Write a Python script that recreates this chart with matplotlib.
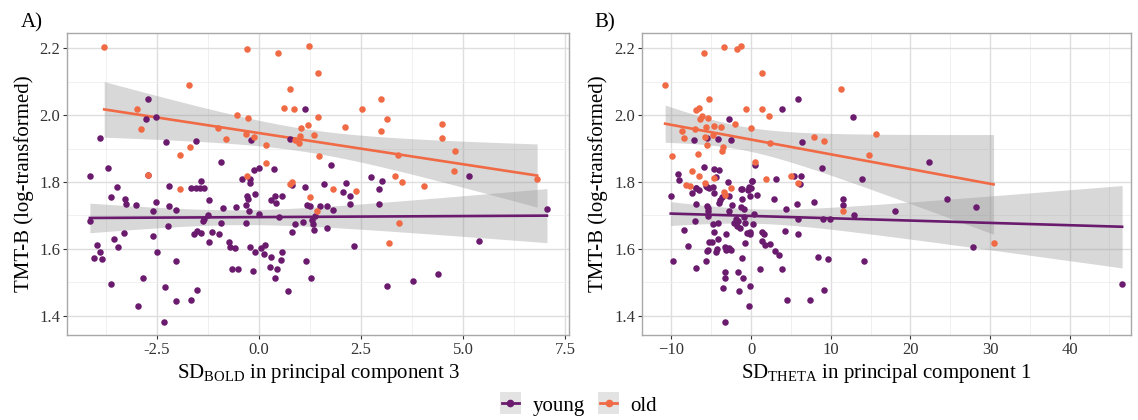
import numpy as np
import matplotlib
matplotlib.use("Agg")
import matplotlib.pyplot as plt
from matplotlib.lines import Line2D
from matplotlib.patches import Rectangle
from matplotlib.legend_handler import HandlerBase

plt.rcParams['font.family'] = ['Liberation Serif', 'DejaVu Serif']
plt.rcParams['mathtext.fontset'] = 'custom'
plt.rcParams['mathtext.rm'] = 'Liberation Serif'

PURPLE = '#6A1B6E'
ORANGE = '#EF6A45'

# ---- panel A: SD_BOLD in PC3 ----
a_old_x = [-3.79, -0.30, 0.47, 1.22, 1.44, -1.71, -2.99, -2.90, -1.69, -1.93,
           -0.55, -0.28, -1.00, -0.81, -0.33, -0.13, 0.16, 0.76, 0.61, 0.86,
           1.44, 1.03, 1.20, 1.00, 1.35, 0.88, 0.98, 1.47, 0.17, -0.30,
           -2.72, 0.76, 0.80, -1.93, 2.98, 2.51, 3.13, 2.11, 2.98, 4.48,
           4.48, 4.79, 3.40, 4.77, 6.81, 3.32, 3.50, 4.03, 1.80, 2.37,
           1.25, 1.42, 3.43, 3.18]
a_old_y = [2.204, 2.198, 2.187, 2.207, 2.126, 2.090, 2.018, 1.959, 1.906, 1.881,
           2.000, 1.992, 1.963, 1.929, 1.944, 1.936, 1.912, 2.078, 2.021, 2.018,
           1.995, 1.963, 1.971, 1.938, 1.941, 1.926, 1.917, 1.878, 1.858, 1.819,
           1.822, 1.794, 1.799, 1.780, 2.048, 2.018, 1.989, 1.965, 1.953, 1.974,
           1.933, 1.894, 1.882, 1.834, 1.809, 1.818, 1.800, 1.788, 1.779, 1.774,
           1.755, 1.713, 1.678, 1.616]

a_young_x = [-2.72, -2.77, -2.53, -3.89, -2.28, -1.55, -0.94, -3.70, -4.14, -2.72,
             1.13, -0.20, 0.76, 0.37, -0.12, 0.00, -0.42, -0.22, -0.22, -1.42,
             -3.48, -2.20, -1.67, -1.54, -1.44, -1.35, 0.81, 1.13,
             1.76, 2.74, 3.01, 5.14, 1.58, 2.13, 2.95, 2.06, 2.22, 2.93,
             2.23, 1.81, 1.66, 1.49, 1.37, 1.29, 1.31, 1.35, 1.66, 2.33,
             5.38, 7.05, 1.27, 3.13, 3.77, 4.38,
             -3.62, -3.27, -3.26, -3.01, -2.52, -2.60, -2.21, -2.03, -2.22, -3.30,
             -2.59, -3.55, -3.45, -4.14, -3.97, -3.90, -4.04, -3.84, -2.49, -2.02,
             -3.62, -2.84, -2.97, -2.30, -2.04, -1.67, -1.53, -2.33, -1.23, -1.26,
             -1.35, -1.38, -1.53, -1.59, -1.41, -1.14, -1.23, -0.93, -0.99, -0.87,
             -0.73, -0.70, -0.58, -0.67, -0.51, -0.56, -0.31, -0.28, -0.29, -0.25,
             -0.33, -0.10, 0.00, -0.21, -0.09, 0.06, 0.14, 0.13, -0.15, 0.29,
             0.26, 0.39, 0.44, 0.54, 0.57, 0.29, 0.39, 0.41, 0.56, 0.50,
             0.72, 0.81, 0.89, 1.08, 1.18, 1.25, 1.14]
a_young_y = [2.049, 1.989, 1.994, 1.933, 1.920, 1.924, 1.860, 1.843, 1.818, 1.822,
             2.018, 1.925, 1.929, 1.839, 1.836, 1.843, 1.809, 1.809, 1.798, 1.804,
             1.786, 1.789, 1.782, 1.782, 1.782, 1.782, 1.791, 1.786,
             1.851, 1.816, 1.804, 1.819, 1.794, 1.798, 1.779, 1.770, 1.758, 1.734,
             1.734, 1.717, 1.728, 1.728, 1.698, 1.686, 1.674, 1.656, 1.662, 1.609,
             1.624, 1.719, 1.513, 1.489, 1.505, 1.526,
             1.756, 1.748, 1.733, 1.730, 1.741, 1.713, 1.728, 1.716, 1.668, 1.647,
             1.639, 1.629, 1.604, 1.683, 1.610, 1.591, 1.571, 1.570, 1.591, 1.563,
             1.495, 1.513, 1.429, 1.487, 1.445, 1.447, 1.476, 1.382, 1.747, 1.701,
             1.689, 1.683, 1.654, 1.645, 1.647, 1.650, 1.620, 1.677, 1.645, 1.723,
             1.621, 1.604, 1.601, 1.541, 1.541, 1.724, 1.730, 1.750, 1.758, 1.712,
             1.677, 1.764, 1.703, 1.604, 1.591, 1.601, 1.611, 1.583, 1.533, 1.575,
             1.545, 1.514, 1.540, 1.565, 1.590, 1.746, 1.759, 1.738, 1.759, 1.695,
             1.474, 1.651, 1.674, 1.680, 1.732, 1.727, 1.564]

# ---- panel B: SD_THETA in PC1 ----
b_old_x = [-10.79, -9.95, -5.90, -3.35, -1.76, -1.25, 1.34, -5.23, -6.94, -6.52,
           -6.15, -6.36, -5.43, -5.65, -4.60, -3.73, -2.05, -0.63, 0.00, 1.34,
           2.30, 7.94, 9.20, -8.70, -8.44, -6.99, -5.77, -5.48, -4.77, -3.51,
           -3.68, -6.69, 2.42, 0.46, -7.44, -6.52, -5.77, -8.19, -7.69, -4.60,
           1.92, 4.98, 5.90, -2.51, 11.25, 15.72, 14.84, -3.43, -3.26, 11.54,
           30.45]
b_old_y = [2.090, 1.878, 2.187, 2.205, 2.198, 2.208, 2.125, 2.049, 2.015, 2.021,
           1.997, 1.988, 1.992, 1.964, 1.968, 1.965, 1.974, 2.018, 1.962, 2.018,
           1.997, 1.936, 1.924, 1.954, 1.933, 1.958, 1.936, 1.911, 1.941, 1.906,
           1.894, 1.883, 1.916, 1.859, 1.834, 1.819, 1.796, 1.790, 1.788, 1.811,
           1.808, 1.819, 1.798, 1.781, 2.078, 1.944, 1.880, 1.770, 1.762, 1.713,
           1.616]

b_young_x = [-2.80, -7.11, -5.48, -4.14, -2.47, 3.93, 5.86, 6.44, 8.95, -5.86,
             -4.60, -4.05, 0.46, -9.12, -9.00, -4.35, -2.92, 3.14, 5.40, 6.27,
             6.15, 0.09, -0.25, -1.17, -6.94, -5.65, -5.23, -4.81, 12.84, 13.89,
             22.33, -10.08, -9.79, -8.37, -7.94, -7.03, -6.94, -6.86, -7.37, -6.86,
             -6.52, -5.56, -4.60, -5.48, -5.36, -5.40, -5.43, -4.81, -4.60, -4.10,
             -5.27, -4.86, -5.36, -5.52, -5.65, -4.27, -4.39, -3.30, -3.17, -2.80,
             -2.55, -3.10, -4.14, -3.93, -3.98, -3.68, -2.76, -2.72, -2.35, -2.13,
             -1.84, -1.72, -1.38, -1.59, -1.29, -1.17, -1.25, -0.92, -0.79, -0.75,
             -1.17, -0.54, -0.84, -0.13, -0.09, -0.34, 0.00, 0.13, -0.09, 0.25,
             0.34, 0.79, -1.67, -0.97, -1.47, -0.09, -0.25, -3.26, -3.22, -3.51,
             -3.30, 1.17, 1.38, 1.63, 1.34, 1.76, 2.38, 2.89, 3.01, 3.51,
             3.89, 4.55, 4.27, 4.43, 5.86, 5.90, 5.81, 7.90, 8.37, 7.44,
             9.16, 9.00, 9.90, 11.54, 11.51, 12.96, 18.07, 24.55, 28.19, 27.85,
             9.70, 14.22, 46.59]
b_young_y = [1.989, 1.925, 1.931, 1.929, 1.926, 2.018, 2.049, 1.919, 1.843, 1.844,
             1.838, 1.835, 1.851, 1.823, 1.806, 1.816, 1.799, 1.809, 1.818, 1.818,
             1.793, 1.804, 1.786, 1.780, 1.781, 1.789, 1.781, 1.786, 1.994, 1.809,
             1.860, 1.758, 1.564, 1.656, 1.607, 1.683, 1.542, 1.733, 1.766, 1.781,
             1.776, 1.784, 1.768, 1.729, 1.721, 1.712, 1.698, 1.675, 1.651, 1.629,
             1.621, 1.621, 1.597, 1.592, 1.564, 1.600, 1.589, 1.604, 1.597, 1.603,
             1.595, 1.644, 1.677, 1.746, 1.738, 1.754, 1.758, 1.714, 1.730, 1.678,
             1.689, 1.668, 1.663, 1.684, 1.726, 1.750, 1.778, 1.718, 1.677, 1.618,
             1.571, 1.647, 1.696, 1.651, 1.644, 1.776, 1.783, 1.803, 1.758, 1.674,
             1.703, 1.760, 1.530, 1.514, 1.475, 1.489, 1.429, 1.512, 1.531, 1.482,
             1.382, 1.541, 1.650, 1.645, 1.624, 1.611, 1.614, 1.748, 1.592, 1.582,
             1.539, 1.447, 1.654, 1.718, 1.645, 1.689, 1.733, 1.739, 1.574, 1.446,
             1.477, 1.688, 1.690, 1.748, 1.731, 1.701, 1.714, 1.748, 1.724, 1.605,
             1.570, 1.563, 1.495]

y_ticks = [1.4, 1.6, 1.8, 2.0, 2.2]
a_ticks = [-2.5, 0.0, 2.5, 5.0, 7.5]
b_ticks = [-10, 0, 10, 20, 30, 40]


def t975(df):
    # Cornish-Fisher approximation of the 97.5% t quantile
    z = 1.959964
    return (z + (z**3 + z) / (4 * df)
            + (5 * z**5 + 16 * z**3 + 3 * z) / (96 * df**2))


def smooth(ax, x, y, color):
    x = np.asarray(x, float)
    y = np.asarray(y, float)
    n = len(x)
    b, a = np.polyfit(x, y, 1)
    xs = np.linspace(x.min(), x.max(), 80)
    fit = a + b * xs
    resid = y - (a + b * x)
    s = np.sqrt(np.sum(resid ** 2) / (n - 2))
    sxx = np.sum((x - x.mean()) ** 2)
    se = s * np.sqrt(1.0 / n + (xs - x.mean()) ** 2 / sxx)
    tq = t975(n - 2)
    ax.fill_between(xs, fit - tq * se, fit + tq * se, color='#999999',
                    alpha=0.38, lw=0, zorder=3)
    ax.plot(xs, fit, color=color, lw=1.9, zorder=4)


def style(ax, xticks, xminor, xlim):
    ax.set_xlim(*xlim)
    ax.set_ylim(1.342, 2.247)
    ax.set_xticks(xticks)
    ax.set_xticks(xminor, minor=True)
    ax.set_yticks(y_ticks)
    ax.set_yticks([1.5, 1.7, 1.9, 2.1], minor=True)
    ax.grid(True, which='major', color='#DEDEDE', lw=1.0, zorder=0)
    ax.grid(True, which='minor', color='#EEEEEE', lw=0.6, zorder=0)
    ax.set_axisbelow(True)
    for sp in ax.spines.values():
        sp.set_color('#A8A8A8')
        sp.set_linewidth(1.0)
    ax.tick_params(which='major', length=3, width=0.8, color='#333333',
                   labelsize=12, labelcolor='#333333', pad=2)
    ax.tick_params(which='minor', length=0)


fig = plt.figure(figsize=(11.38, 4.2), dpi=100)
axA = fig.add_axes([0.0589, 0.2024, 0.4411, 0.7198])
axB = fig.add_axes([0.5641, 0.2024, 0.4297, 0.7198])

for ax, ox, oy, yx, yy in [(axA, a_old_x, a_old_y, a_young_x, a_young_y),
                           (axB, b_old_x, b_old_y, b_young_x, b_young_y)]:
    ax.scatter(yx, yy, s=22, color=PURPLE, lw=0, zorder=5)
    ax.scatter(ox, oy, s=22, color=ORANGE, lw=0, zorder=5)
    smooth(ax, yx, yy, PURPLE)
    smooth(ax, ox, oy, ORANGE)

style(axA, a_ticks, [-3.75, -1.25, 1.25, 3.75, 6.25], (-4.70, 7.59))
style(axB, b_ticks, [-5, 5, 15, 25, 35, 45], (-13.7, 47.7))
axA.set_xticklabels(['-2.5', '0.0', '2.5', '5.0', '7.5'])

for ax, lab in [(axA, r'SD$_{\mathrm{BOLD}}$ in principal component 3'),
                (axB, r'SD$_{\mathrm{THETA}}$ in principal component 1')]:
    ax.set_xlabel(lab, fontsize=15, labelpad=3)
    ax.set_ylabel('TMT-B (log-transformed)', fontsize=15, labelpad=4)

fig.text(0.018, 0.935, 'A)', fontsize=15)
fig.text(0.522, 0.935, 'B)', fontsize=15)


class KeyHandler(HandlerBase):
    def create_artists(self, legend, orig, xd, yd, w, h, fontsize, trans):
        bg = Rectangle((xd + w / 2 - h * 0.75, yd - h * 0.25), h * 1.5, h * 1.5,
                       facecolor='#E3E3E3', edgecolor='none', transform=trans)
        ln = Line2D([xd + w / 2 - h * 0.6, xd + w / 2 + h * 0.6],
                    [yd + h / 2, yd + h / 2], color=orig.get_color(), lw=2,
                    transform=trans)
        pt = Line2D([xd + w / 2], [yd + h / 2], marker='o', ms=4.5,
                    color=orig.get_color(), transform=trans)
        return [bg, ln, pt]


h_young = Line2D([], [], color=PURPLE)
h_old = Line2D([], [], color=ORANGE)
fig.legend([h_young, h_old], ['young', 'old'], loc='center',
           bbox_to_anchor=(0.507, 0.034), ncol=2, frameon=False, fontsize=15,
           handler_map={Line2D: KeyHandler()}, handlelength=1.3,
           handletextpad=0.4, columnspacing=0.5)

fig.savefig('out.png', dpi=100)
